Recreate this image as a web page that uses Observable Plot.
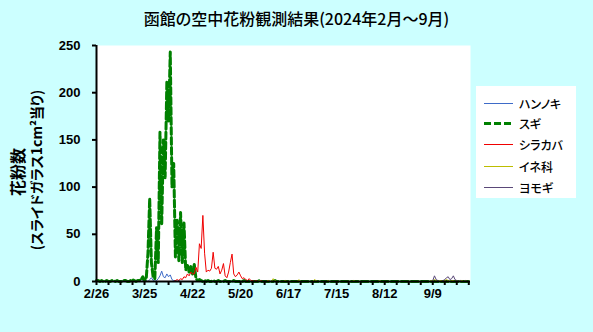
<!DOCTYPE html>
<html><head><meta charset="utf-8">
<script src="https://cdn.jsdelivr.net/npm/d3@7"></script>
<script src="https://cdn.jsdelivr.net/npm/@observablehq/plot@0.6"></script>
<style>
html,body{margin:0;padding:0;background:#CCFFFF;}
#wrap{position:relative;width:593px;height:332px;background:#CCFFFF;overflow:hidden;font-family:"Noto Sans CJK JP",sans-serif;font-feature-settings:"palt";color:#000;}
#chart{position:absolute;left:0;top:0;}
#title{position:absolute;left:0;width:593px;top:8px;text-align:center;font-size:16px;line-height:20px;font-weight:500;}
.ylab{position:absolute;white-space:nowrap;transform:translate(-50%,-50%) rotate(-90deg);font-weight:bold;line-height:16px;}
#legend{position:absolute;left:476px;top:86px;width:100px;height:112px;background:#fff;}
.row{position:absolute;left:0;height:16px;display:flex;align-items:center;font-size:12px;font-weight:500;}
.row svg{margin-left:8px;margin-right:6px;}
</style></head>
<body>
<div id="wrap">
  <div id="chart"></div>
  <div id="title">函館の空中花粉観測結果(2024年2月～9月)</div>
  <div class="ylab" style="left:17px;top:172px;font-size:16px;">花粉数</div>
  <div class="ylab" style="left:36px;top:170px;font-size:14px;">(スライドガラス1cm²当り)</div>
  <div id="legend"></div>
</div>
<script>
const startDay = "2024-02-26";
const endDay = "2024-10-01";
const seriesNames = ["ハンノキ","スギ","シラカバ","イネ科","ヨモギ"];
const tickLabels = ["2/26","3/25","4/22","5/20","6/17","7/15","8/12","9/9"];
const yTicks = [0,50,100,150,200,250];

// daily counts from 2/26 (rows of 14 days)
const hannoki = [
0,0,0,0,0,0,0,0,0,1,0,0,0,0,
0,1,0,0,0,1,0,0,1,0,0,1,0,1,
0,1,0,2,4,1,2,1,3,6,11,5,4,8,
5,7,2,1,1,0,1,0,0,0,0,0,0,0,
0,0,0,0,0,0,0,0,0,0,0,0,0,0,
0,0,0,0,0,0,0,0,0,0,0,0,0,0,
0,0,0,0,0,0,0,0,0,0,0,0,0,0,
0,0,0,0,0,0,0,0,0,0,0,0,0,0,
0,0,0,0,0,0,0,0,0,0,0,0,0,0,
0,0,0,0,0,0,0,0,0,0,0,0,0,0,
0,0,0,0,0,0,0,0,0,0,0,0,0,0,
0,0,0,0,0,0,0,0,0,0,0,0,0,0,
0,0,0,0,0,0,0,0,0,0,0,0,0,0,
0,0,0,0,0,0,0,0,0,0,0,0,0,0,
0,0,0,0,0,0,0,0,0,0,0,0,0,0,
0,0,0,0,0,0,0,0];
const sugi = [
1,1,0,1,0,0,1,0,0,1,1,0,1,0,
0,0,1,1,0,0,1,2,1,0,1,1,2,5,
1,3,30,88,20,5,3,57,20,158,60,150,110,211,
170,243,100,125,26,65,22,73,20,62,12,17,10,16,
8,18,3,1,2,1,0,1,0,1,0,0,1,0,
0,1,0,0,0,1,0,0,0,0,1,0,0,0,
0,0,1,0,0,0,0,0,0,0,0,1,0,0,
0,0,0,0,0,0,1,0,0,0,0,0,0,0,
0,0,0,0,0,0,0,0,0,0,0,0,0,0,
0,0,0,0,0,0,0,0,0,0,0,0,0,0,
0,0,0,0,0,0,0,0,0,0,0,0,0,0,
0,0,0,0,0,0,0,0,0,0,0,0,0,0,
0,0,0,0,0,0,0,0,0,0,0,0,0,0,
0,0,0,0,0,0,0,0,0,0,0,0,0,0,
0,0,0,0,0,0,0,0,0,0,0,0,0,0,
0,0,0,0,0,0,0,0];
const shirakaba = [
0,0,0,0,0,0,0,0,0,0,0,0,0,0,
0,0,0,0,0,0,0,0,0,0,0,0,0,0,
0,0,0,0,0,0,0,0,0,0,0,0,0,0,
0,0,0,0,1,2,1,3,2,5,4,8,6,10,
8,8,15,10,40,35,70,30,10,12,11,14,31,14,
13,16,8,12,19,6,4,10,20,29,8,5,7,10,
6,3,4,2,1,3,1,1,0,1,0,0,1,0,
0,0,1,0,0,0,0,0,0,0,0,0,0,0,
0,0,0,0,0,0,0,0,0,0,0,0,0,0,
0,0,0,0,0,0,0,0,0,0,0,0,0,0,
0,0,0,0,0,0,0,0,0,0,0,0,0,0,
0,0,0,0,0,0,0,0,0,0,0,0,0,0,
0,0,0,0,0,0,0,0,0,0,0,0,0,0,
0,0,0,0,0,0,0,0,0,0,0,0,0,0,
0,0,0,0,0,0,0,0,0,0,0,0,0,0,
0,0,0,0,0,0,0,0];
const ine = [
0,0,0,0,0,0,0,0,0,0,0,0,0,0,
0,0,0,0,0,0,0,0,0,0,0,0,0,0,
0,0,0,0,0,0,0,0,0,0,0,0,0,0,
0,0,0,0,0,0,0,0,0,0,0,0,0,0,
0,0,0,0,0,0,0,0,0,0,0,0,0,0,
0,0,0,0,0,0,0,0,0,0,0,0,0,0,
0,0,0,0,0,0,0,0,0,0,0,1,0,0,
0,0,1,0,0,3,1,0,0,0,0,0,1,0,
0,0,0,0,0,0,2,0,0,0,0,0,0,0,
0,2,1,0,0,0,0,0,0,1,0,0,0,0,
0,0,0,0,0,0,0,0,0,0,1,0,0,0,
0,0,0,0,0,0,0,0,0,0,0,1,0,0,
0,0,0,0,0,0,0,0,0,0,0,0,0,0,
0,0,0,0,0,0,0,0,0,0,0,0,0,1,
1,2,1,0,1,1,0,1,2,1,0,1,1,0,
1,0,1,1,0,1,0,0];
const yomogi = [
0,0,0,0,0,0,0,0,0,0,0,0,0,0,
0,0,0,0,0,0,0,0,0,0,0,0,0,0,
0,0,0,0,0,0,0,0,0,0,0,0,0,0,
0,0,0,0,0,0,0,0,0,0,0,0,0,0,
0,0,0,0,0,0,0,0,0,0,0,0,0,0,
0,0,0,0,0,0,0,0,0,0,0,0,0,0,
0,0,0,0,0,0,0,0,0,0,0,0,0,0,
0,0,0,0,0,0,0,0,0,0,0,0,0,0,
0,0,0,0,0,0,0,0,0,0,0,0,0,0,
0,0,0,0,0,0,0,0,0,0,0,0,0,0,
0,0,0,0,0,0,0,0,0,0,0,0,0,0,
0,0,0,0,0,0,0,0,0,0,0,0,0,0,
0,0,0,0,0,0,0,0,0,0,0,0,0,0,
0,0,0,0,0,0,0,0,0,0,0,0,0,0,
1,6,2,1,0,0,1,2,4,5,2,3,6,2,
1,0,1,0,0,1,0,0];

const styles = [
  {name:"ハンノキ", values:hannoki, stroke:"#3E6BC8", width:1, dash:null},
  {name:"スギ", values:sugi, stroke:"#008000", width:3, dash:"7,3"},
  {name:"シラカバ", values:shirakaba, stroke:"#F00000", width:1, dash:null},
  {name:"イネ科", values:ine, stroke:"#BDBD00", width:1, dash:null},
  {name:"ヨモギ", values:yomogi, stroke:"#5A4878", width:1, dash:null}
];

const start = new Date(startDay + "T00:00:00Z");
const end = new Date(endDay + "T00:00:00Z");
const dates = d3.utcDay.range(start, d3.utcDay.offset(start, sugi.length));
const weekly = d3.utcMonday.range(start, end);
const labelDates = tickLabels.map(s => { const [m,d] = s.split("/").map(Number); return new Date(Date.UTC(2024, m-1, d)); });
const labelMap = new Map(labelDates.map((d,i) => [+d, tickLabels[i]]));

const lineMarks = styles.map(s => Plot.line(s.values.map((v,i) => ({date: dates[i], value: v})), {
  x: "date", y: "value", stroke: s.stroke, strokeWidth: s.width, strokeDasharray: s.dash, curve: "linear"
}));
const chart = Plot.plot({
  width: 593, height: 332,
  marginLeft: 96, marginRight: 123, marginTop: 45, marginBottom: 51,
  style: {background: "transparent", fontFamily: "'Liberation Sans', Arial, sans-serif", fontSize: "13px", color: "#000"},
  x: {type: "utc", domain: [start, end]},
  y: {domain: [0, 250]},
  marks: [
    Plot.frame({fill: "white", stroke: null}),
    ...lineMarks,
    Plot.ruleY([0], {stroke: "#000", strokeWidth: 2}),
    Plot.ruleX([start], {stroke: "#000", strokeWidth: 2}),
    Plot.axisY({ticks: yTicks, tickSize: 4, tickPadding: 12, label: null, strokeWidth: 2, fill: "#000", fontSize: 13, fontWeight: "bold"}),
    Plot.axisX({ticks: weekly, tickSize: 4, tickFormat: () => "", label: null, strokeWidth: 2}),
    Plot.axisX({ticks: labelDates, tickSize: 0, tickPadding: 7, tickFormat: d => labelMap.get(+d), label: null, fill: "#000", fontSize: 13, fontWeight: "bold"})
  ]
});
document.getElementById("chart").appendChild(chart);

// legend
const legend = document.getElementById("legend");
const rowTops = [9, 29, 50, 72, 93];
styles.forEach((s, i) => {
  const row = document.createElement("div");
  row.className = "row";
  row.style.top = rowTops[i] + "px";
  const y = s.width % 2 ? 3.5 : 3;
  row.innerHTML = `<svg width="29" height="7"><line x1="0" x2="29" y1="${y}" y2="${y}" stroke="${s.stroke}" stroke-width="${s.width}" ${s.dash ? `stroke-dasharray="${s.dash}"` : ""}/></svg><span>${s.name}</span>`;
  legend.appendChild(row);
});
</script>
</body></html>
